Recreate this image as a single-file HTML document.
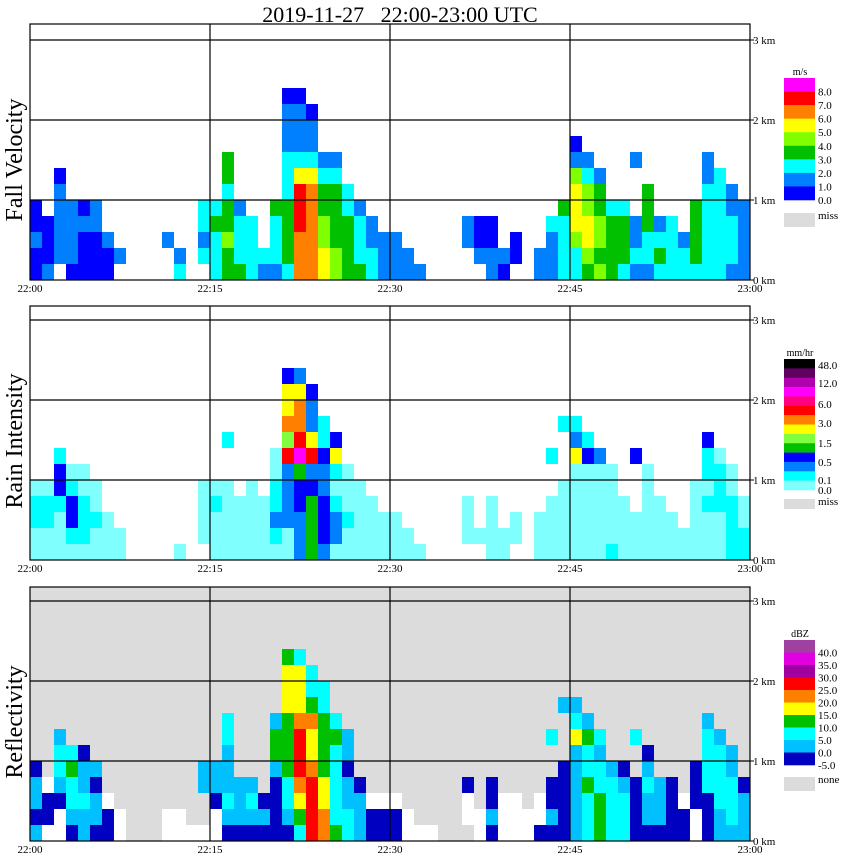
<!DOCTYPE html>
<html><head><meta charset="utf-8"><title>Radar 2019-11-27</title>
<style>
html,body{margin:0;padding:0;background:#fff;}
svg{display:block;font-family:"Liberation Serif",serif;}
</style></head>
<body>
<svg id="chart" width="850" height="868" viewBox="0 0 850 868" xmlns="http://www.w3.org/2000/svg">
<text x="400" y="22" font-size="22" text-anchor="middle" xml:space="preserve" style="white-space:pre">2019-11-27   22:00-23:00 UTC</text>
</svg>
<script>
// ---- data ----
const timeTicks = ["22:00","22:15","22:30","22:45","23:00"];
const heightTicks = ["0 km","1 km","2 km","3 km"];
const panelTitles = ["Fall Velocity","Rain Intensity","Reflectivity"];
const fvLegendLabels = ["8.0","7.0","6.0","5.0","4.0","3.0","2.0","1.0","0.0"];
const riLegendLabels = ["48.0","12.0","6.0","3.0","1.5","0.5","0.1","0.0"];
const dbzLegendLabels = ["40.0","35.0","30.0","25.0","20.0","15.0","10.0","5.0","0.0","-5.0"];
// one string per minute column (22:00..22:59), 12 chars from 2.4 km down to 0 km (0.2 km each)
const fvCols = [
".......ddbdd","........dddb",".....dbbbbb.",".......bbbbd",".......dbddd",".......bbddd",".........bdd","..........b.",
"............","............","............",".........b..","..........bc","............",".......ccbc.",".......cgccc",
"....ggcggygg",".......bcccg","........cccc","..........cb",".......gcccb","dbbbcccggggc","dbbbcYrrrooo",".dbbcYoooooo",
"....bcggyyYY","....bcggggyy","......ccgggg",".......bcccg","........bbcc",".........bbb",".........bbb","..........bb",
"...........b","............","............","............","........bb..","........ddb.","........ddbb","..........bd",
".........dd.","............","..........bb","........cbbb",".......gcccc","...dbyYYYycc","....bcyyYYyg",".....bggyygy",
".......cgggg",".......cgggc","....b...bbcb","......gggccb","........bcgc","........cccc",".........bcc",".......ggggc",
"....bbcccccc",".....ccccccc","......bbcccb",".......bbbbb"];
const riCols = [
".......lccll",".......lccll",".....cddclll","......lcddcl","......llcccl",".......llcll",".........lll","..........ll",
"............","............","............","............","...........l","............",".......llll.",".......lclll",
"....c..lllll","........llll",".......lllll","........llll",".....llccbcl","dYYoGrbbbbll","bYoormgddbbb",".dbbYrbdgggg",
"...ccdbbdddb","....dYclcbbl","......lllcll",".......lllll","........llll",".........lll",".........lll","..........ll",
"...........l","............","............","............","........lll.","..........l.","........llll","..........ll",
".........ll.","............",".........lll",".....c..llll","...c...lllll","...cbYllllll","....cdllllll",".....bllllll",
"......lllllc","........llll",".....d...lll","......llllll","........llll",".........lll","..........ll",".......lllll",
"....dcclclll",".....lccclll","......llcccc","........llcc"];
const dbzCols = [
".......nkknk","........wnnw",".....kccknww","......cgcckn","......nkkckk",".......knkkn",".........wnn","..........ww",
"............","............","............","..........ww","..........ww","...........w",".......kk..w",".......kknww",
"....cckkkckn","........kkkn","........kckn",".........nkn","....kggknnnn","gYYYggggcckn","cYYYorrroYgc",".ccgoYYorrrr",
"..ccggggYYoo","....cgcccccg",".....kknkkcc","........nkkk",".........wnn",".........wnn",".........wnn","..........ww",
"...........w","...........w","............","............","........nww.","..........ww","........nnkn",".........www",
".........www","..........ww",".........wwn",".....c..nnkn","...k...nnnnn","...kcYkkkkkk","....kgccgccc",".....ckccggg",
".......kcccc",".......nkccc",".....c..nnnn","......nkckkn","........kkkn","........nnnn",".........wnn",".......nnnww",
"....kccccnnn",".....kcccckk","......kkccck","........nkkk"];

// ---- styles (not data) ----
const fvColors = {d:"#0000ff",b:"#0080ff",c:"#00ffff",g:"#00c000",y:"#80ff00",Y:"#ffff00",o:"#ff8000",r:"#ff0000",m:"#ff00ff"};
const riColors = {l:"#80ffff",c:"#00ffff",b:"#0080ff",d:"#0000ff",g:"#00c000",G:"#80ff40",Y:"#ffff00",o:"#ff8000",r:"#ff0000",p:"#ff0080",m:"#ff00ff",v:"#b000b0"};
const dbzColors = {w:"#ffffff",n:"#0000c0",k:"#00c0ff",c:"#00ffff",g:"#00c000",Y:"#ffff00",o:"#ff8000",r:"#ff0000",p:"#a000a0",m:"#e000e0"};
const fvLegendColors = ["#ff00ff","#ff0000","#ff8000","#ffff00","#80ff00","#00c000","#00ffff","#0080ff","#0000ff"];
const riLegendColors = ["#000000","#600060","#b000b0","#ff00ff","#ff0080","#ff0000","#ff8000","#ffff00","#80ff40","#00c000","#0000ff","#0080ff","#00ffff","#80ffff"];
const dbzLegendColors = ["#a040a0","#e000e0","#a000a0","#ff0000","#ff8000","#ffff00","#00c000","#00ffff","#00c0ff","#0000c0"];

const NS = "http://www.w3.org/2000/svg";
const svg = document.getElementById("chart");
const X0 = 30, X1 = 750, TOPKM = 2.4, DKM = 0.2, PXKM = 80;
function xScale(minute){ return X0 + minute * (X1 - X0) / 60; }
function yScale(y0, km){ return y0 - km * PXKM; }
function mk(tag, attrs, parent){
  const el = document.createElementNS(NS, tag);
  for (const k in attrs) el.setAttribute(k, attrs[k]);
  (parent || svg).appendChild(el);
  return el;
}
const panels = [
  {cols: fvCols, colors: fvColors, top: 24, y0: 280, bg: "#ffffff", name: "fall-velocity"},
  {cols: riCols, colors: riColors, top: 306, y0: 560, bg: "#ffffff", name: "rain-intensity"},
  {cols: dbzCols, colors: dbzColors, top: 587, y0: 841, bg: "#dcdcdc", name: "reflectivity"}
];
panels.forEach(function(p, pi){
  const g = mk("g", {});
  
  
  const bg = mk("rect", {x: X0, y: p.top, width: X1 - X0, height: p.y0 - p.top, fill: p.bg}, g);
  
  
  p.cols.forEach(function(col, c){
    for (let r = 0; r < col.length; r++){
      const ch = col.charAt(r);
      const fill = p.colors[ch];
      if (!fill) continue;
      const kmTop = TOPKM - r * DKM;
      const ya = yScale(p.y0, kmTop), yb = yScale(p.y0, kmTop - DKM);
      const xa = xScale(c), xb = xScale(c + 1);
      const cell = mk("rect", {x: xa, y: ya, width: xb - xa, height: yb - ya, fill: fill}, g);
      
      
    }
  });
  for (let k = 1; k <= 3; k++){
    const yy = yScale(p.y0, k);
    const ln = mk("line", {x1: X0, x2: X1, y1: yy, y2: yy, stroke: "#000", "stroke-width": 1.2}, g);
    
    
  }
  for (let t = 1; t < timeTicks.length - 1; t++){
    const xx = xScale(t * 15);
    const ln = mk("line", {x1: xx, x2: xx, y1: p.top, y2: p.y0, stroke: "#000", "stroke-width": 1.2}, g);
    
    
  }
  const border = mk("rect", {x: X0, y: p.top, width: X1 - X0, height: p.y0 - p.top, fill: "none", stroke: "#000", "stroke-width": 1.2}, g);
  
  
  heightTicks.forEach(function(lbl, k){
    const yy = yScale(p.y0, k);
    const tk = mk("line", {x1: X1, x2: X1 + 4, y1: yy, y2: yy, stroke: "#000"}, g);
    
    
    const tx = mk("text", {x: X1 + 3, y: yy + 4, "font-size": 11}, g);
    tx.textContent = lbl;
    
    
  });
  timeTicks.forEach(function(lbl, t){
    const tx = mk("text", {x: xScale(t * 15), y: p.y0 + 12, "font-size": 11, "text-anchor": "middle"}, g);
    tx.textContent = lbl;
    
    
  });
  const cy = (p.top + p.y0) / 2 + 8;
  const tt = mk("text", {x: 22, y: cy, "font-size": 24, "text-anchor": "middle", transform: "rotate(-90 22 " + cy + ")"}, g);
  tt.textContent = panelTitles[pi];
  
  
});

function legend(name, unit, colors, labels, top, bottom, labelYs, missTop, missH, missLabel){
  const g = mk("g", {});
  
  
  const u = mk("text", {x: 800, y: top - 3, "font-size": 10, "text-anchor": "middle"}, g);
  u.textContent = unit;
  
  
  const h = (bottom - top) / colors.length;
  colors.forEach(function(c, i){
    const r = mk("rect", {x: 784, y: top + i * h, width: 31, height: h + 0.3, fill: c}, g);
    
    
  });
  labels.forEach(function(l, i){
    const tx = mk("text", {x: 818, y: labelYs(i, h) + 4, "font-size": 11}, g);
    tx.textContent = l;
    
    
  });
  const m = mk("rect", {x: 784, y: missTop, width: 31, height: missH, fill: "#dcdcdc"}, g);
  
  
  const mt = mk("text", {x: 818, y: missTop + 6, "font-size": 11}, g);
  mt.textContent = missLabel;
  
  
}
legend("fall-velocity-legend", "m/s", fvLegendColors, fvLegendLabels, 78, 200, function(i, h){ return 78 + (i + 1) * h; }, 213, 14, "miss");
const riYs = [365, 383, 404, 423, 443, 462, 480, 490];
legend("rain-intensity-legend", "mm/hr", riLegendColors, riLegendLabels, 359, 490, function(i){ return riYs[i]; }, 499, 10, "miss");
legend("reflectivity-legend", "dBZ", dbzLegendColors, dbzLegendLabels, 640, 765, function(i, h){ return 640 + (i + 1) * h; }, 777, 14, "none");
</script>
</body></html>
